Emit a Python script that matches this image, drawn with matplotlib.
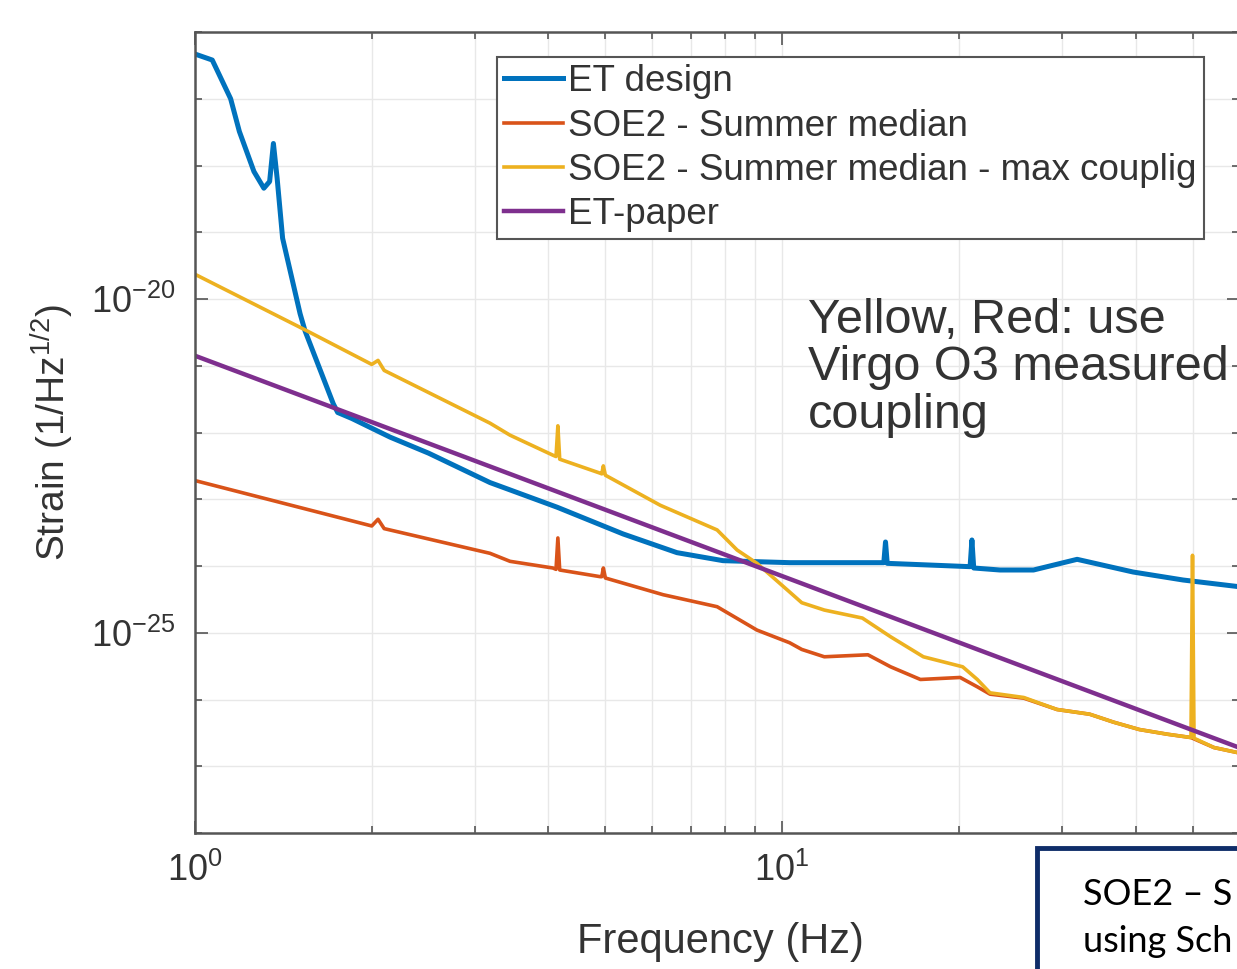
import numpy as np
import matplotlib
matplotlib.use("Agg")
import matplotlib.pyplot as plt
from matplotlib.ticker import FixedLocator, LogFormatterSciNotation, NullFormatter
from matplotlib.patches import Rectangle

plt.rcParams['font.family'] = ['Liberation Sans', 'DejaVu Sans']
plt.rcParams['mathtext.fontset'] = 'custom'
plt.rcParams['mathtext.rm'] = 'Liberation Sans'
plt.rcParams['mathtext.it'] = 'Liberation Sans:italic'
plt.rcParams['axes.unicode_minus'] = False

# ET design (frequency in Hz, log10 strain)
et_freq = [1.0, 1.07, 1.15, 1.19, 1.26, 1.31, 1.34, 1.36, 1.38, 1.41, 1.51, 1.54,
           1.72, 1.75, 1.85, 2.15, 2.5, 3.18, 3.44, 4.14, 5.36, 6.62, 7.93, 10.3,
           14.9, 15.0, 15.1, 20.9, 21.05, 21.2, 23.5, 26.8, 31.8, 39.6, 48.2, 60.0]
et_logh = [-16.33, -16.42, -17.00, -17.49, -18.09, -18.34, -18.24, -17.67, -18.19, -19.09, -20.22, -20.48,
           -21.57, -21.70, -21.79, -22.07, -22.31, -22.75, -22.86, -23.12, -23.52, -23.80, -23.92, -23.95,
           -23.95, -23.64, -23.96, -24.01, -23.61, -24.03, -24.06, -24.06, -23.90, -24.09, -24.21, -24.31]

# SOE2 - Summer median - max coupling
max_freq = [1.0, 1.53, 2.0, 2.05, 2.1, 3.18, 3.44, 4.07, 4.12, 4.15, 4.18, 4.90, 4.93, 4.96, 5.0,
            6.2, 7.75, 8.38, 9.06, 10.3, 10.8, 11.8, 13.7, 15.3, 17.4, 20.3, 21.5, 22.6, 25.8,
            29.4, 33.4, 36.7, 40.6, 45.3, 49.7, 50.0, 50.3, 54.4, 60.0]
max_logh = [-19.63, -20.45, -20.98, -20.92, -21.07, -21.86, -22.04, -22.34, -22.36, -21.90, -22.40,
            -22.61, -22.62, -22.50, -22.64, -23.09, -23.46, -23.76, -23.96, -24.39, -24.55, -24.66,
            -24.78, -25.06, -25.36, -25.51, -25.70, -25.90, -25.97, -26.15, -26.22, -26.34, -26.45,
            -26.52, -26.57, -23.84, -26.58, -26.72, -26.80]

# SOE2 - Summer median
med_freq = [1.0, 2.0, 2.05, 2.1, 3.18, 3.44, 4.07, 4.12, 4.15, 4.18, 4.90, 4.93, 4.96, 5.0,
            6.27, 7.75, 9.06, 10.3, 10.8, 11.8, 14.0, 15.3, 17.2, 20.1, 21.5, 22.6, 25.8,
            29.4, 33.4, 36.7, 40.6, 45.3, 49.7, 54.4, 60.0]
med_logh = [-22.72, -23.40, -23.30, -23.44, -23.81, -23.93, -24.03, -24.05, -23.58, -24.06,
            -24.16, -24.16, -24.03, -24.18, -24.43, -24.61, -24.96, -25.15, -25.25, -25.36,
            -25.33, -25.51, -25.70, -25.67, -25.81, -25.92, -25.98, -26.15, -26.22, -26.34,
            -26.45, -26.52, -26.57, -26.72, -26.80]

# ET-paper
paper_freq = [1.0, 60.0]
paper_logh = [-20.85, -26.72]

fig = plt.figure(figsize=(12.37, 9.69), dpi=100)
ax = fig.add_axes([195/1237, 1-833/969, (1239-195)/1237, (833-32)/969])

ax.plot(et_freq, 10**np.array(et_logh), color='#0072BD', lw=3.6, label='ET design')
ax.plot(med_freq, 10**np.array(med_logh), color='#D95319', lw=2.6, label='SOE2 - Summer median')
ax.plot(max_freq, 10**np.array(max_logh), color='#EDB120', lw=2.6,
        label='SOE2 - Summer median - max couplig')
ax.plot(paper_freq, 10**np.array(paper_logh), color='#7E2F8E', lw=3.2, label='ET-paper')

ax.set_xscale('log')
ax.set_yscale('log')
ax.set_xlim(1, 60)
ax.set_ylim(1e-28, 1e-16)

ax.yaxis.set_major_locator(FixedLocator([1e-25, 1e-20]))
ax.yaxis.set_minor_locator(FixedLocator([10.0**k for k in range(-28, -15)]))
ax.yaxis.set_minor_formatter(NullFormatter())
ax.xaxis.set_major_locator(FixedLocator([1, 10]))
ax.xaxis.set_minor_locator(FixedLocator([2, 3, 4, 5, 6, 7, 8, 9, 20, 30, 40, 50]))
ax.xaxis.set_minor_formatter(NullFormatter())
ax.xaxis.set_major_formatter(LogFormatterSciNotation())
ax.yaxis.set_major_formatter(LogFormatterSciNotation())

ax.grid(True, which='both', color='#e8e8e8', lw=1.0)
ax.set_axisbelow(True)
ax.tick_params(which='both', direction='in', top=True, right=True, colors='#555555',
               labelcolor='#333333', labelsize=26, width=1.2)
ax.tick_params(which='major', length=9, pad=14)
ax.tick_params(which='minor', length=5)
for s in ax.spines.values():
    s.set_color('#555555')
    s.set_linewidth(1.8)

ax.set_xlabel('Frequency (Hz)', fontsize=30, color='#333333')
ax.set_ylabel('Strain (1/Hz$^{1/2}$)', fontsize=28, color='#333333')
ax.xaxis.set_label_coords(0.503, -0.111)
ax.yaxis.set_label_coords(-0.114, 0.5)

leg = ax.legend(loc='upper left', bbox_to_anchor=(497/1237, 1-57/969),
                bbox_transform=fig.transFigure, fontsize=26.5, frameon=True, fancybox=False,
                framealpha=1, edgecolor='#555555', borderpad=0.2, labelspacing=0.25,
                handlelength=1.6, handletextpad=0.12, borderaxespad=0)
leg.get_frame().set_linewidth(1.5)
for t in leg.get_texts():
    t.set_color('#333333')

fig.text(808/1237, 1-298/969, 'Yellow, Red: use\nVirgo O3 measured\ncoupling',
         fontsize=35, color='#333333', va='top', ha='left', linespacing=1.07)

fig.patches.append(Rectangle((1037/1237, -0.05), 0.2, 1-848/969+0.05, transform=fig.transFigure,
                             facecolor='white', edgecolor='#0F2D69', lw=3.5))
fig.text(1083/1237, 1-905/969, 'SOE2 – S', fontsize=26, family='Lato', color='black',
         va='baseline', ha='left')
fig.text(1083/1237, 1-952/969, 'using Sch', fontsize=26, family='Lato', color='black',
         va='baseline', ha='left')

fig.savefig('out.png', dpi=100)
